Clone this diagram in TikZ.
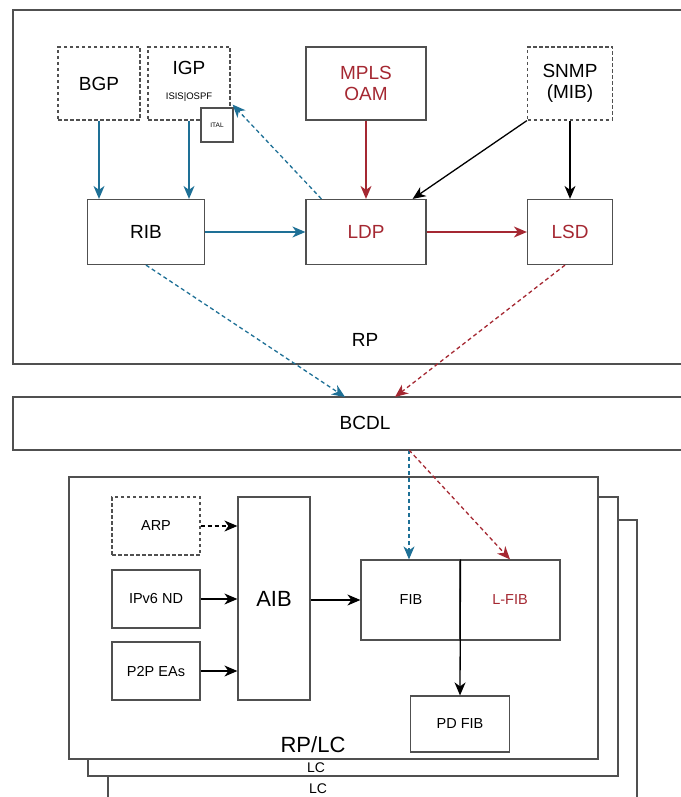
\documentclass[tikz,border=0pt]{standalone}
\usepackage{fontspec}
\setmainfont{Liberation Sans}
\usetikzlibrary{arrows.meta,calc}
\definecolor{cblue}{RGB}{30,112,150}
\definecolor{cred}{RGB}{165,40,50}
\definecolor{cgray}{RGB}{80,80,80}
\begin{document}
\begin{tikzpicture}[x=1pt,y=-1pt,
  box/.style={draw=cgray, line width=1.2pt, inner sep=0pt, align=center, fill=white, font=\fontsize{19}{22}\selectfont},
  dbox/.style={box, dash pattern=on 3.5pt off 2.5pt},
  sbox/.style={box, font=\fontsize{14.5}{17}\selectfont},
  frame/.style={draw=cgray, line width=1.2pt, fill=white},
  arrowtip/.style={-{Stealth[length=13pt,width=11pt,inset=4pt]}},
  barr/.style={cblue, line width=1.3pt, arrowtip},
  rarr/.style={cred, line width=1.3pt, arrowtip},
  karr/.style={black, line width=1.3pt, arrowtip},
  dsh/.style={dash pattern=on 4pt off 3pt},
  lbl/.style={inner sep=0pt}
]
\useasboundingbox (0,0) rectangle (680,797);

% ---------- RP ----------
\draw[frame] (13,10) rectangle (700,364);
\node[lbl, font=\fontsize{19}{22}\selectfont] (rplbl) at (365,340) {RP};

\node[dbox, minimum width=82pt, minimum height=73pt] (bgp) at (99,83.5) {BGP};
\node[dbox, minimum width=82pt, minimum height=73pt] (igp) at (189,83.5) {};
\node[lbl, font=\fontsize{19}{22}\selectfont] (igpt) at (189,68) {IGP};
\node[lbl, font=\fontsize{9.5}{11}\selectfont] (igps) at (189,97) {ISIS|OSPF};
\node[box, minimum width=32pt, minimum height=34pt, font=\fontsize{6.5}{7}\selectfont] (ital) at (217,125) {ITAL};

\node[box, minimum width=120pt, minimum height=73pt, text=cred] (mpls) at (366,83.5) {MPLS\\[-1pt]OAM};
\node[dbox, minimum width=85pt, minimum height=73pt] (snmp) at (570,83.5) {SNMP\\[-1pt](MIB)};

\node[box, minimum width=117pt, minimum height=65pt] (rib) at (146,232) {RIB};
\node[box, minimum width=120pt, minimum height=65pt, text=cred] (ldp) at (366,232) {LDP};
\node[box, minimum width=85pt, minimum height=65pt, text=cred] (lsd) at (570,232) {LSD};

\draw[barr] (bgp.south) -- (bgp.south |- rib.north);
\draw[barr] (igp.south) -- (igp.south |- rib.north);
\draw[barr] (rib.east) -- (ldp.west);
\coordinate (ldpA) at ($(ldp.north west)+(16,0)$);
\coordinate (igpA) at ($(igp.south east)+(2,-16)$);
\draw[barr, dsh] (ldpA) -- (igpA);
\draw[rarr] (mpls.south) -- (ldp.north);
\draw[rarr] (ldp.east) -- (lsd.west);
\coordinate (ldpB) at ($(ldp.north east)+(-14,0)$);
\draw[karr] (snmp.south west) -- (ldpB);
\draw[karr] (snmp.south) -- (lsd.north);

% ---------- BCDL ----------
\draw[frame] (13,397) rectangle (700,450);
\node[lbl, font=\fontsize{19}{22}\selectfont] (bcdl) at (365,423) {BCDL};
\coordinate (bcdlA) at (345,397);
\coordinate (bcdlB) at (395,397);
\coordinate (bcdlC) at (409,450);
\draw[barr, dsh] (rib.south) -- (bcdlA);
\draw[rarr, dsh] ($(lsd.south)+(-5,0)$) -- (bcdlB);

% ---------- RP/LC ----------
\draw[frame] (108,520) rectangle (637,820);
\node[lbl, font=\fontsize{14}{16}\selectfont] (lc3) at (318,789) {LC};
\draw[frame] (88,497) rectangle (618,776);
\node[lbl, font=\fontsize{14}{16}\selectfont] (lc2) at (316,768) {LC};
\draw[frame] (69,477) rectangle (598,759);
\node[lbl, font=\fontsize{22}{26}\selectfont] (rplc) at (313,745) {RP/LC};

\node[dbox, sbox, minimum width=88pt, minimum height=58pt] (arp) at (156,526) {ARP};
\node[sbox, minimum width=88pt, minimum height=58pt] (ipv6) at (156,599) {IPv6 ND};
\node[sbox, minimum width=88pt, minimum height=58pt] (p2p) at (156,671) {P2P EAs};
\node[box, minimum width=72pt, minimum height=203pt, font=\fontsize{22}{26}\selectfont] (aib) at (274,598.5) {AIB};
\node[sbox, minimum width=100pt, minimum height=80pt] (fib) at (411,600) {FIB};
\node[sbox, minimum width=100pt, minimum height=80pt, text=cred] (lfib) at (510,600) {L-FIB};
\node[sbox, minimum width=99pt, minimum height=56pt] (pdfib) at (460,724) {PD FIB};

\draw[karr, dsh] (arp.east) -- (arp.east -| aib.west);
\draw[karr] (ipv6.east) -- (ipv6.east -| aib.west);
\draw[karr] (p2p.east) -- (p2p.east -| aib.west);
\draw[karr] (aib.east |- fib.west) -- (fib.west);
\coordinate (div) at ($(fib.south east)!0.5!(lfib.south west)$);
\draw[karr] (div |- fib.north) -- (pdfib.north);
\draw[barr, dsh] (bcdlC) -- (bcdlC |- fib.north);
\draw[rarr, dsh] (bcdlC) -- (lfib.north);
\end{tikzpicture}
\end{document}
